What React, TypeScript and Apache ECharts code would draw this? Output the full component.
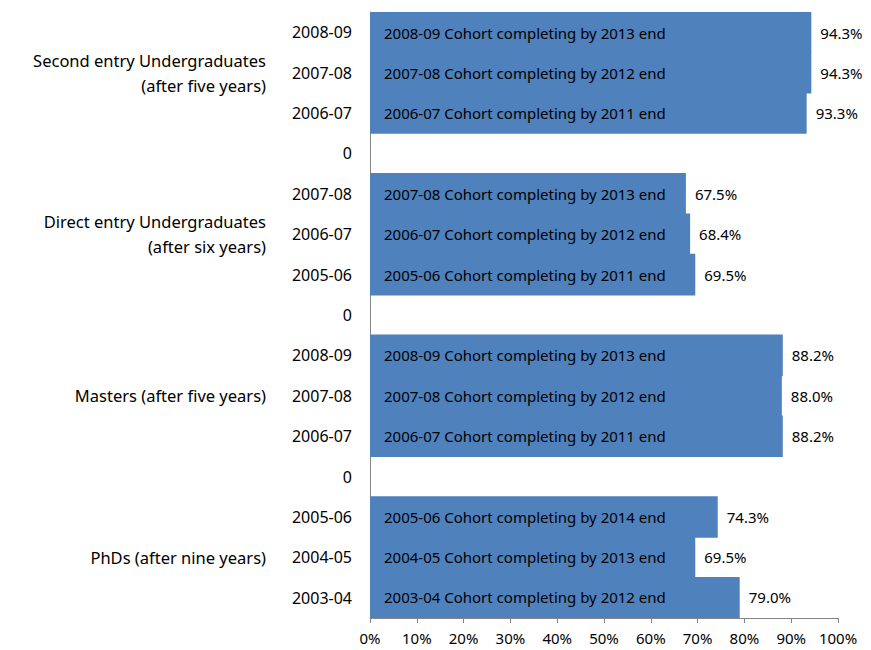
import React, { useEffect, useRef } from "react";
import * as echarts from "echarts";

// Bottom-first order (ECharts category y-axis starts at the bottom)
const yearLabels = [
  "2003-04", "2004-05", "2005-06", "0",
  "2006-07", "2007-08", "2008-09", "0",
  "2005-06", "2006-07", "2007-08", "0",
  "2006-07", "2007-08", "2008-09",
];

const completionRates: (number | null)[] = [
  79.0, 69.5, 74.3, null,
  88.2, 88.0, 88.2, null,
  69.5, 68.4, 67.5, null,
  93.3, 94.3, 94.3,
];

const cohortLabels = [
  "2003-04 Cohort completing by 2012 end",
  "2004-05 Cohort completing by 2013 end",
  "2005-06 Cohort completing by 2014 end",
  "",
  "2006-07 Cohort completing by 2011 end",
  "2007-08 Cohort completing by 2012 end",
  "2008-09 Cohort completing by 2013 end",
  "",
  "2005-06 Cohort completing by 2011 end",
  "2006-07 Cohort completing by 2012 end",
  "2007-08 Cohort completing by 2013 end",
  "",
  "2006-07 Cohort completing by 2011 end",
  "2007-08 Cohort completing by 2012 end",
  "2008-09 Cohort completing by 2013 end",
];

const groupLabels = [
  "", "PhDs (after nine years)", "", "",
  "", "Masters (after five years)", "", "",
  "", "Direct entry Undergraduates\n(after six years)", "", "",
  "", "Second entry Undergraduates\n(after five years)", "",
];

const xTicks = { min: 0, max: 100, interval: 10 };

const FONT = "Noto Sans";
const BAR = "#4F81BD";

export default function App() {
  const ref = useRef<HTMLDivElement>(null);

  useEffect(() => {
    if (!ref.current) return;
    const chart = echarts.init(ref.current, null, { renderer: "svg" });
    chart.setOption({
      animation: false,
      backgroundColor: "#ffffff",
      grid: { left: 362, right: 33, top: 4, bottom: 32, containLabel: false },
      xAxis: {
        type: "value",
        min: xTicks.min,
        max: xTicks.max,
        interval: xTicks.interval,
        splitLine: { show: false },
        axisLine: { show: true, lineStyle: { color: "#868686" } },
        axisTick: { show: true, length: 5, lineStyle: { color: "#868686" } },
        axisLabel: {
          formatter: "{value}%",
          color: "#000",
          fontFamily: FONT,
          fontSize: 15,
          margin: 12,
        },
      },
      yAxis: [
        {
          type: "category",
          data: yearLabels,
          axisLine: { show: true, lineStyle: { color: "#868686" } },
          axisTick: { show: false },
          axisLabel: {
            color: "#000",
            fontFamily: FONT,
            fontSize: 16,
            margin: 18,
            interval: 0,
          },
        },
        {
          type: "category",
          position: "left",
          offset: 94,
          data: groupLabels,
          axisLine: { show: false },
          axisTick: { show: false },
          axisLabel: {
            color: "#000",
            fontFamily: FONT,
            fontSize: 16.5,
            margin: 10,
            interval: 0,
            align: "right",
            lineHeight: 25,
          },
        },
      ],
      series: [
        {
          type: "bar",
          yAxisIndex: 0,
          data: completionRates,
          barWidth: "103%",
          barGap: "-100%",
          itemStyle: { color: BAR },
          label: {
            show: true,
            position: "insideLeft",
            distance: 14,
            color: "#000",
            fontFamily: FONT,
            fontSize: 15,
            formatter: (p: any) => cohortLabels[p.dataIndex],
          },
        },
        {
          type: "bar",
          yAxisIndex: 0,
          data: completionRates,
          barWidth: "103%",
          barGap: "-100%",
          itemStyle: { color: "rgba(0,0,0,0)", borderWidth: 0 },
          label: {
            show: true,
            position: "right",
            distance: 9,
            color: "#000",
            fontFamily: FONT,
            fontSize: 15,
            formatter: (p: any) =>
              p.value == null ? "" : Number(p.value).toFixed(1) + "%",
          },
        },
      ],
    });
    return () => chart.dispose();
  }, []);

  return <div ref={ref} style={{ width: 863, height: 642 }} />;
}
